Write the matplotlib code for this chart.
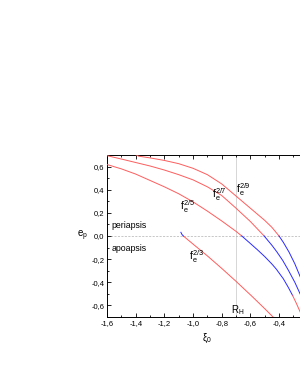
import matplotlib
matplotlib.use("Agg")
import matplotlib.pyplot as plt
from matplotlib.ticker import MultipleLocator, FuncFormatter

plt.rcParams['font.family'] = ['Liberation Sans', 'DejaVu Sans']
plt.rcParams['mathtext.fontset'] = 'custom'
plt.rcParams['mathtext.rm'] = 'Liberation Sans'
plt.rcParams['mathtext.it'] = 'Liberation Sans'

# f_e^{2/9}
x29_red = [-1.42, -1.38, -1.30, -1.20, -1.10, -1.00, -0.90, -0.80, -0.70, -0.60, -0.50, -0.45, -0.40]
y29_red = [0.715, 0.69, 0.675, 0.653, 0.625, 0.585, 0.53, 0.45, 0.345, 0.24, 0.135, 0.075, 0.0]
x29_blue = [-0.40, -0.37, -0.33, -0.29, -0.253, -0.20]
y29_blue = [0.0, -0.055, -0.14, -0.24, -0.35, -0.52]

# f_e^{2/7}
x27_red = [-1.62, -1.50, -1.40, -1.30, -1.20, -1.10, -1.00, -0.90, -0.80, -0.70, -0.60, -0.504]
y27_red = [0.70, 0.665, 0.635, 0.605, 0.57, 0.53, 0.485, 0.425, 0.35, 0.24, 0.125, 0.0]
x27_blue = [-0.504, -0.45, -0.416, -0.375, -0.335, -0.29, -0.253, -0.20]
y27_blue = [0.0, -0.08, -0.136, -0.21, -0.296, -0.40, -0.50, -0.65]

# f_e^{2/5}
x25_red = [-1.62, -1.50, -1.40, -1.30, -1.20, -1.10, -1.00, -0.90, -0.80, -0.70, -0.66]
y25_red = [0.625, 0.58, 0.535, 0.48, 0.425, 0.365, 0.295, 0.215, 0.13, 0.04, 0.0]
x25_blue = [-0.66, -0.60, -0.55, -0.50, -0.45, -0.42, -0.37, -0.335, -0.305]
y25_blue = [0.0, -0.065, -0.12, -0.178, -0.242, -0.285, -0.37, -0.445, -0.515]
x25_red2 = [-0.305, -0.28, -0.253, -0.235]
y25_red2 = [-0.515, -0.58, -0.655, -0.71]

# f_e^{2/3}
x23_blue = [-1.085, -1.078, -1.068]
y23_blue = [0.032, 0.014, 0.0]
x23_red = [-1.068, -1.00, -0.90, -0.80, -0.70, -0.59, -0.50, -0.43]
y23_red = [0.0, -0.07, -0.172, -0.28, -0.392, -0.52, -0.628, -0.715]

x_hill = -0.70

xticks = [-1.6, -1.4, -1.2, -1.0, -0.8, -0.6, -0.4]
yticks = [-0.6, -0.4, -0.2, 0.0, 0.2, 0.4, 0.6]

red = '#ff5c5c'
blue = '#2a2aff'

fig = plt.figure(figsize=(3.0, 3.88), dpi=100)
ax = fig.add_axes([0.357, 0.183, 0.6687, 0.4175])
ax.set_xlim(-1.6, -0.2)
ax.set_ylim(-0.7, 0.7)

ax.axvline(x_hill, color='#d0d0d0', lw=0.6, zorder=1)
ax.axhline(0.0, color='#b0b0b0', lw=0.5, ls=(0, (3, 2)), zorder=1)

lw = 0.7
for xs, ys, c in [(x29_red, y29_red, red), (x29_blue, y29_blue, blue),
                  (x27_red, y27_red, red), (x27_blue, y27_blue, blue),
                  (x25_red, y25_red, red), (x25_blue, y25_blue, blue),
                  (x25_red2, y25_red2, red),
                  (x23_red, y23_red, red), (x23_blue, y23_blue, blue)]:
    ax.plot(xs, ys, color=c, lw=lw, zorder=3, solid_joinstyle='round')

fs = 6.3
ffs = 7.6
ax.text(-1.57, 0.095, 'periapsis', fontsize=fs, va='center', ha='left')
ax.text(-1.57, -0.11, 'apoapsis', fontsize=fs, va='center', ha='left')
ax.text(-0.699, 0.40, r'$\mathregular{f_e^{2/9}}$', fontsize=ffs, va='center', ha='left')
ax.text(-0.866, 0.357, r'$\mathregular{f_e^{2/7}}$', fontsize=ffs, va='center', ha='left')
ax.text(-1.090, 0.256, r'$\mathregular{f_e^{2/5}}$', fontsize=ffs, va='center', ha='left')
ax.text(-1.030, -0.178, r'$\mathregular{f_e^{2/3}}$', fontsize=ffs, va='center', ha='left')
ax.text(-0.735, -0.643, r'$\mathregular{R_H}$', fontsize=7.0, va='center', ha='left')

ax.set_xticks(xticks)
ax.set_yticks(yticks)
ax.xaxis.set_minor_locator(MultipleLocator(0.1))
ax.yaxis.set_minor_locator(MultipleLocator(0.1))
fmt = FuncFormatter(lambda v, p: ('%.1f' % v).replace('.', ',').replace('-0,0', '0,0'))
ax.xaxis.set_major_formatter(fmt)
ax.yaxis.set_major_formatter(fmt)
ax.tick_params(which='both', direction='in', top=True, right=True, labelsize=5.5, width=0.6, pad=2)
ax.tick_params(which='major', length=3)
ax.tick_params(which='minor', length=1.6)
for s in ax.spines.values():
    s.set_linewidth(0.7)

ax.set_xlabel(r'$\mathregular{\xi_0}$', fontsize=7, labelpad=4)
ax.set_ylabel(r'$\mathregular{e_p}$', fontsize=7, rotation=0, labelpad=6, va='center')

fig.savefig('out.png', dpi=100)
